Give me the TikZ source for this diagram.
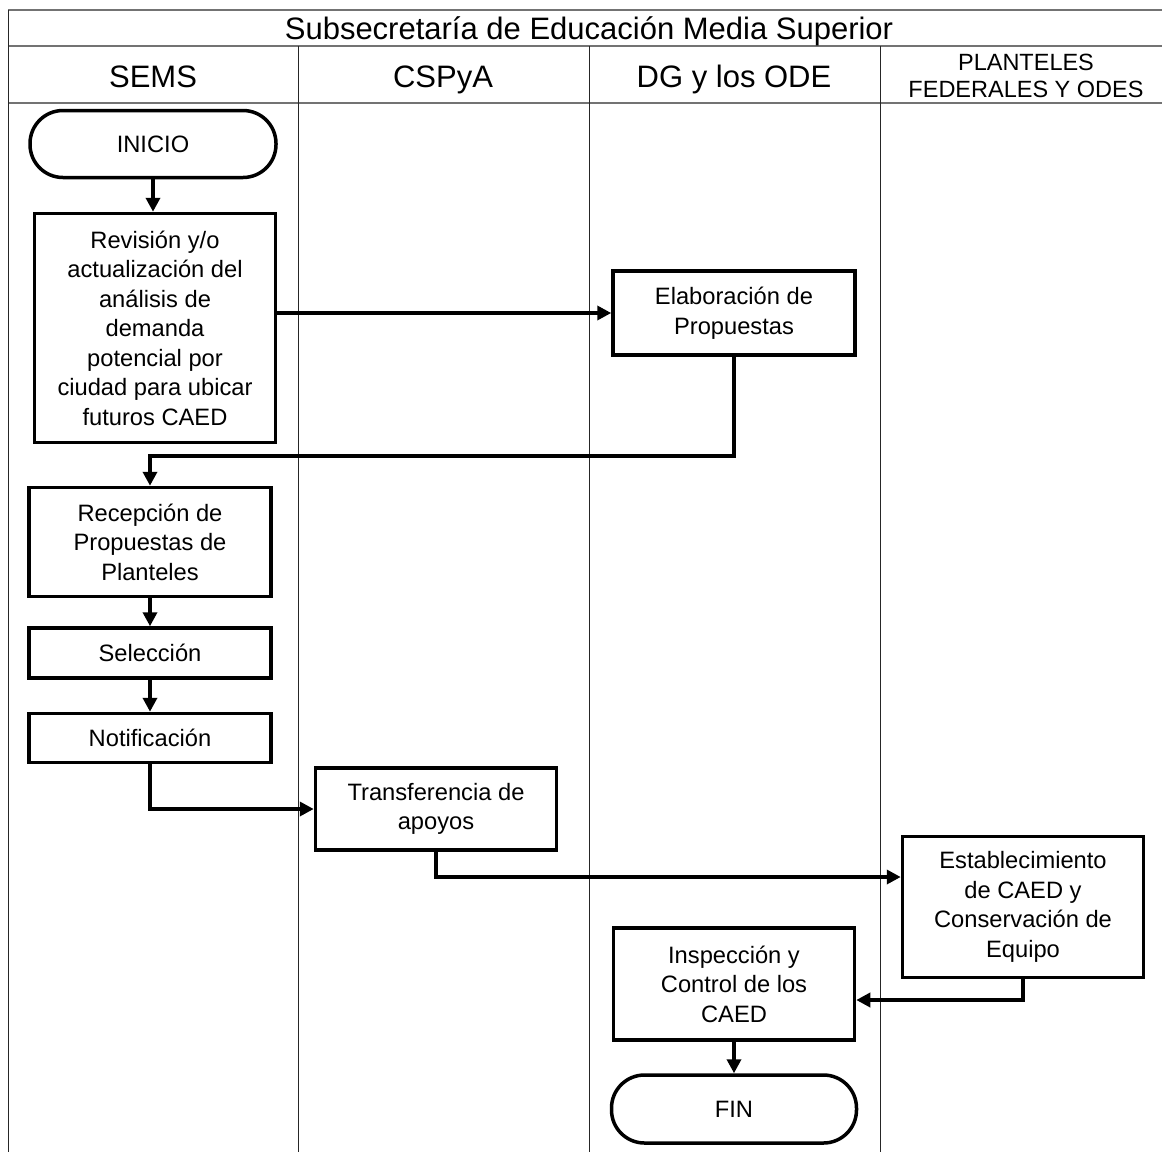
\documentclass[tikz,border=0pt]{standalone}
\usepackage{fontspec}
\setmainfont{Liberation Sans}
\usetikzlibrary{arrows.meta,calc}
\newcommand\nfont{\fontsize{23.7}{29.5}\selectfont}
\newcommand\hfont{\fontsize{31}{36}\selectfont}
\newcommand\pfont{\fontsize{23.5}{27}\selectfont}
\begin{document}
\begin{tikzpicture}[x=1pt,y=-1pt,
  box/.style={draw, line width=3.5pt, align=center, inner sep=0pt, font=\nfont},
  term/.style={box, rounded corners=33pt},
  arr/.style={line width=3.5pt, -{Triangle[length=14pt,width=14pt]}},
  lane/.style={line width=1pt, black!85},
  hline/.style={line width=2pt, black!55},
  head/.style={font=\hfont, anchor=base, inner sep=0pt}]
\useasboundingbox (0,0) rectangle (1162,1152);
% frame and lanes
\draw[hline] (8,10) -- (1162,10);
\draw[hline] (8,46) -- (1162,46);
\draw[hline] (8,103) -- (1162,103);
\draw[lane] (8,10) -- (8,1152);
\draw[lane] (298,46) -- (298,1152);
\draw[lane] (589,46) -- (589,1152);
\draw[lane] (880,46) -- (880,1152);
% headers
\node[head] (title) at (589,39) {Subsecretaría de Educación Media Superior};
\node[head] (h1) at (153,87) {SEMS};
\node[head] (h2) at (443,87) {CSPyA};
\node[head] (h3) at (734,87) {DG y los ODE};
\node[font=\pfont, align=center] (h4) at (1026,76) {PLANTELES\\FEDERALES Y ODES};
% nodes
\node[term, minimum width=246pt, minimum height=67pt] (inicio) at (153,144) {INICIO};
\node[box, minimum width=241pt, minimum height=229pt] (rev) at (155,328) {Revisión y/o\\actualización del\\análisis de\\demanda\\potencial por\\ciudad para ubicar\\futuros CAED};
\node[box, minimum width=242pt, minimum height=84pt] (elab) at (734,313) {Elaboración de\\Propuestas};
\node[box, minimum width=242pt, minimum height=109pt] (recep) at (150,542) {Recepción de\\Propuestas de\\Planteles};
\node[box, minimum width=242pt, minimum height=50pt] (sel) at (150,653) {Selección};
\node[box, minimum width=242pt, minimum height=49pt] (notif) at (150,738) {Notificación};
\node[box, minimum width=241pt, minimum height=82pt] (transf) at (436,809) {Transferencia de\\apoyos};
\node[box, minimum width=241pt, minimum height=141pt] (estab) at (1023,907) {Establecimiento\\de CAED y\\Conservación de\\Equipo};
\node[box, minimum width=241pt, minimum height=112pt] (insp) at (734,984) {Inspección y\\Control de los\\CAED};
\node[term, minimum width=245pt, minimum height=68pt] (fin) at (734,1109) {FIN};
% connectors
\coordinate (j1) at (150,456);
\coordinate (j3) at (437,877);
\coordinate (j4) at (1023,1000);
\draw[arr] (inicio.south) -- (inicio.south |- rev.north);
\draw[arr] (elab.west -| rev.east) -- (elab.west);
\draw[arr] (elab.south) |- (j1) -- (recep.north);
\draw[arr] (recep.south) -- (sel.north);
\draw[arr] (sel.south) -- (notif.north);
\draw[arr] (notif.south) |- (transf.west);
\draw[arr] (transf.south) |- (j3) -- (estab.west |- j3);
\draw[arr] (estab.south) |- (j4) -- (insp.east |- j4);
\draw[arr] (insp.south) -- (fin.north);
\end{tikzpicture}
\end{document}
